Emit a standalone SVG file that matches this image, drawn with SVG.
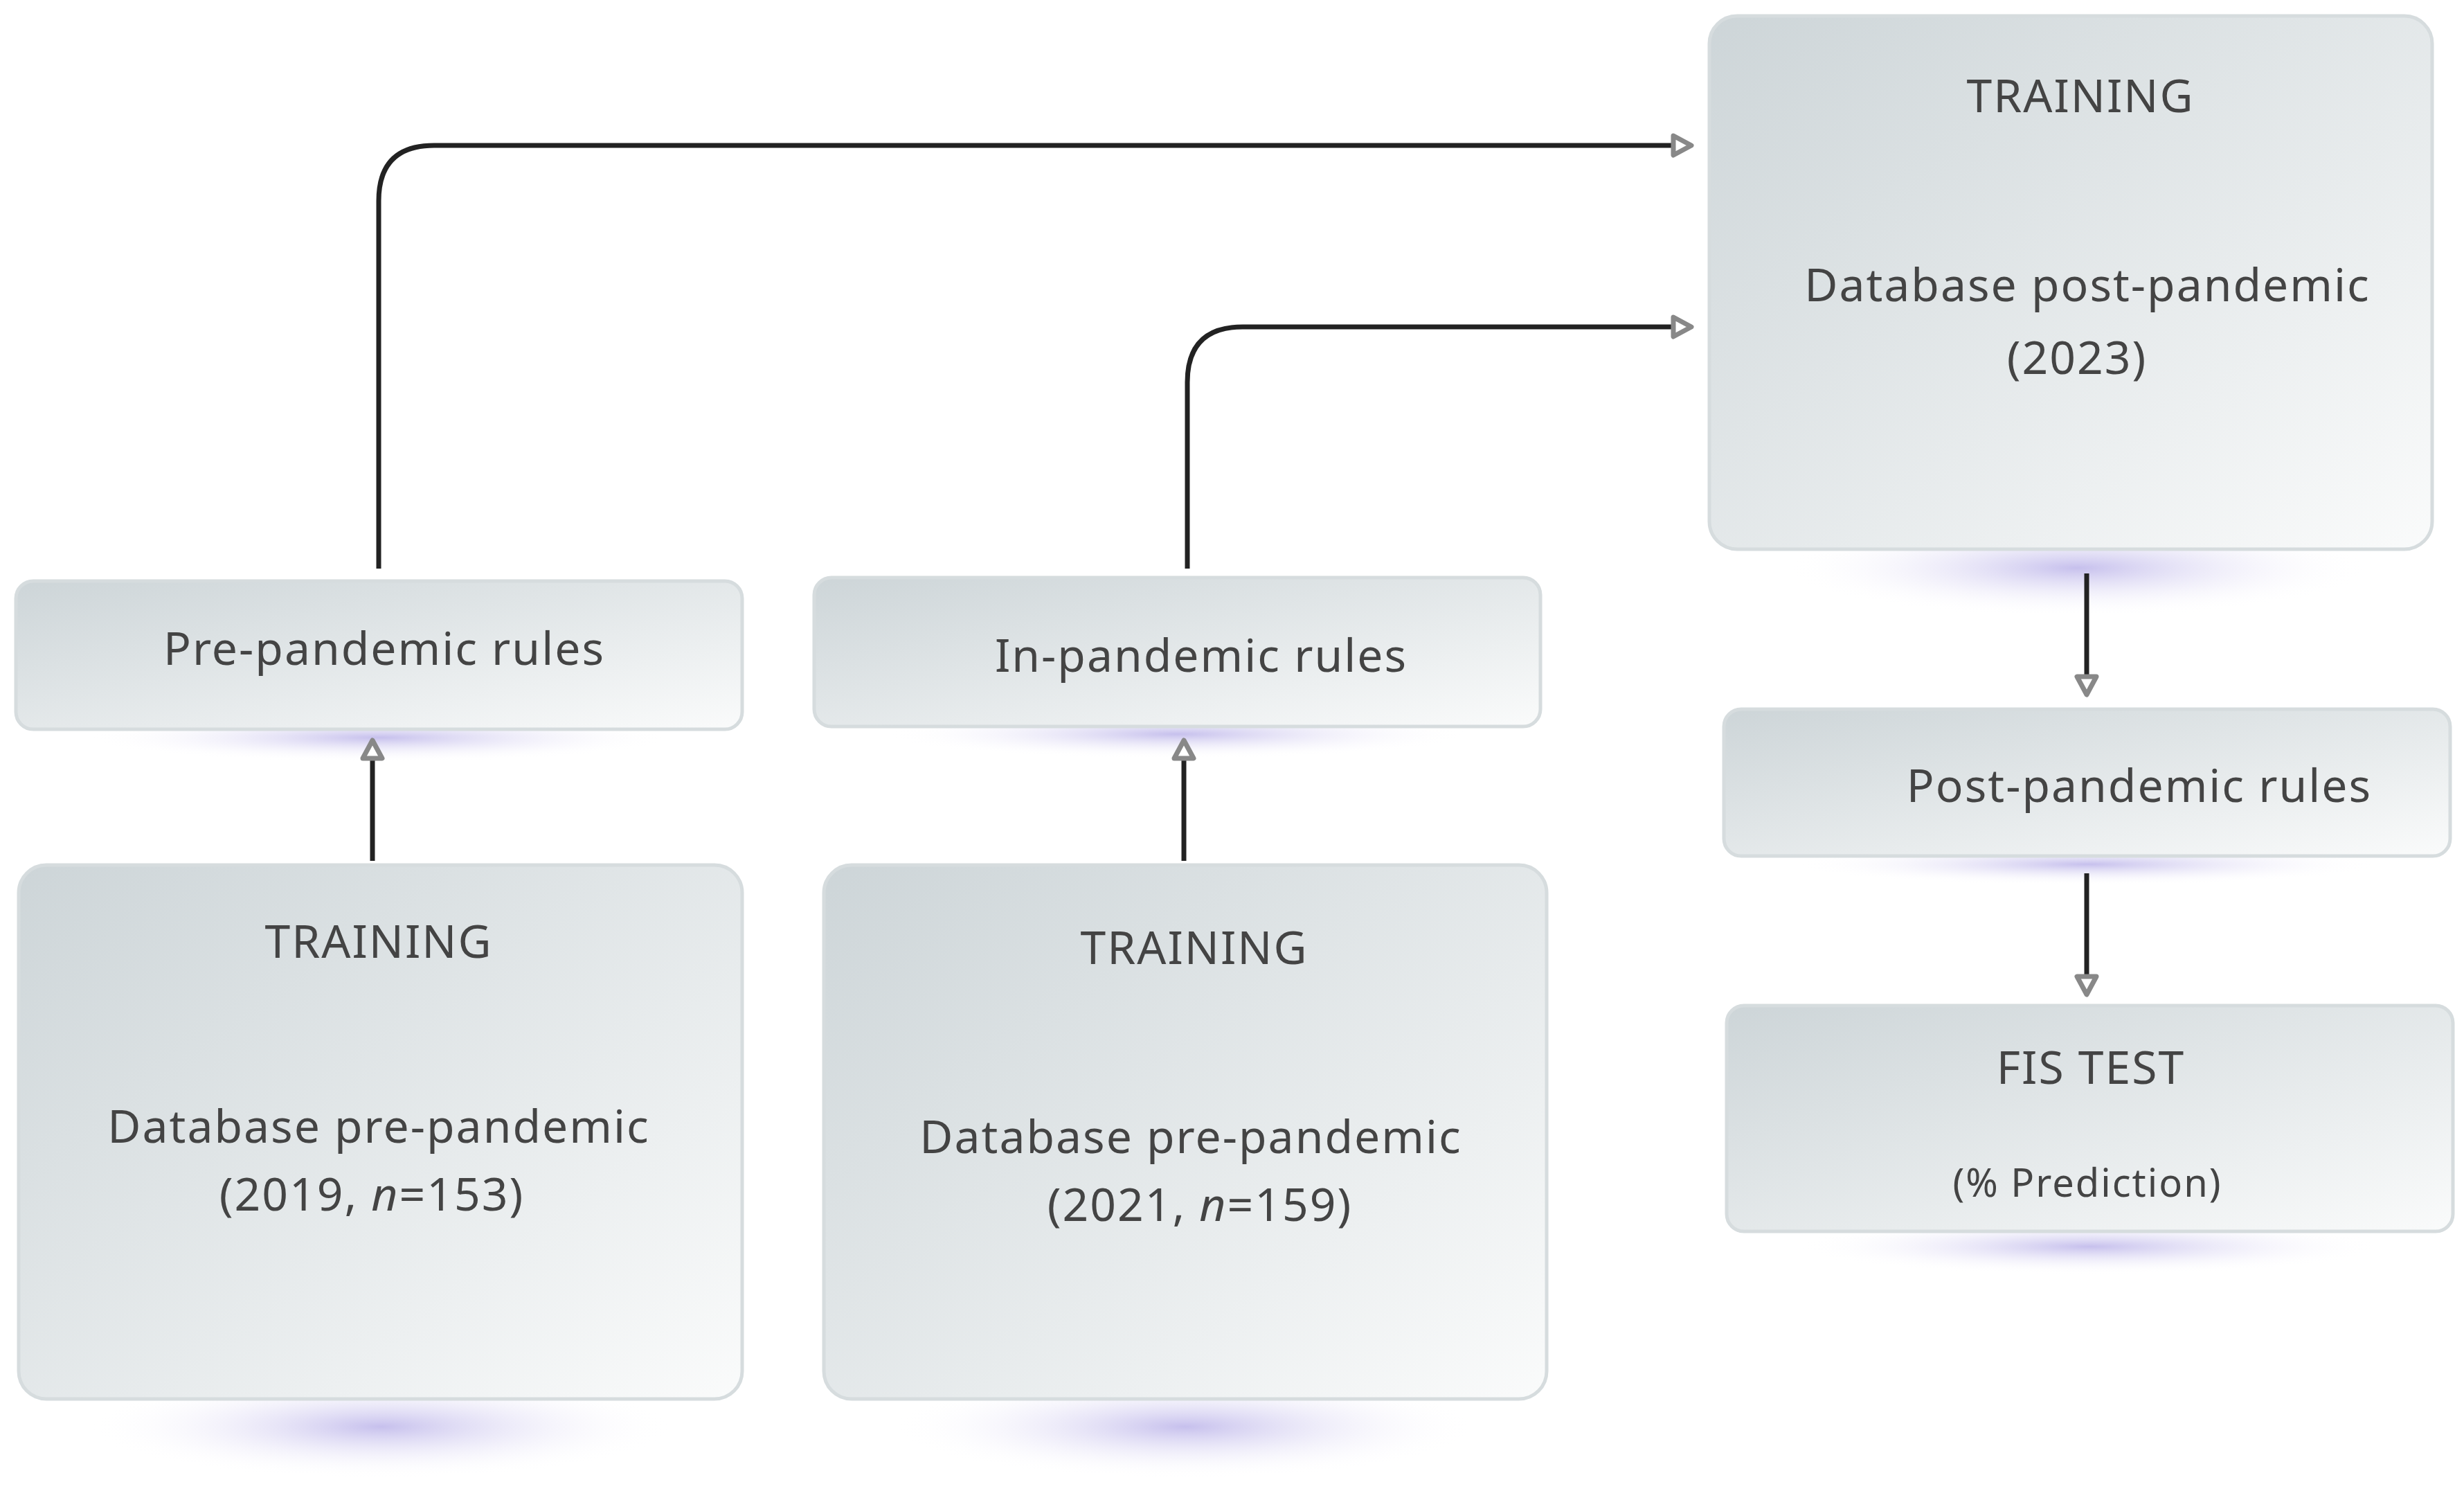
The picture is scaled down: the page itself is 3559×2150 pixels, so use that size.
<svg xmlns="http://www.w3.org/2000/svg" width="3559" height="2150" viewBox="0 0 3559 2150">
<defs>
<linearGradient id="bg" x1="0" y1="0" x2="1" y2="1"><stop offset="0" stop-color="#cdd5d8"/><stop offset="1" stop-color="#fafbfb"/></linearGradient>
<radialGradient id="sh"><stop offset="0" stop-color="#b8b0e8" stop-opacity="0.8"/><stop offset="1" stop-color="#ffffff" stop-opacity="0"/></radialGradient>
<marker id="ah" viewBox="0 0 20 20" refX="8" refY="10" markerWidth="40" markerHeight="40" markerUnits="userSpaceOnUse" orient="auto"><path d="M4 3 L17 10 L4 17 Z" fill="#fff" stroke="#888" stroke-width="3.5" stroke-linejoin="round"/></marker>
</defs>
<style>
.b{fill:url(#bg);stroke:#d6dcde;stroke-width:5}
.t{font-family:"Noto Sans","Liberation Sans",sans-serif;font-size:66px;fill:#444;text-anchor:middle;letter-spacing:2px}
.s{font-size:56px}
.c{fill:none;stroke:#222;stroke-width:7;marker-end:url(#ah)}
</style>
<rect width="3559" height="2150" fill="#fff"/>
<g id="shadows">
<ellipse cx="3000" cy="820" rx="420" ry="70" fill="url(#sh)"/>
<ellipse cx="547" cy="1065" rx="420" ry="35" fill="url(#sh)"/>
<ellipse cx="1700" cy="1060" rx="420" ry="35" fill="url(#sh)"/>
<ellipse cx="3015" cy="1248" rx="420" ry="30" fill="url(#sh)"/>
<ellipse cx="3018" cy="1800" rx="420" ry="40" fill="url(#sh)"/>
<ellipse cx="550" cy="2060" rx="420" ry="75" fill="url(#sh)"/>
<ellipse cx="1712" cy="2060" rx="420" ry="75" fill="url(#sh)"/>
</g>
<g id="train3"><rect class="b" x="2469" y="23" width="1044" height="770" rx="40"/>
<text class="t" x="3005" y="162">TRAINING</text><text class="t" x="3015" y="435">Database post-pandemic</text><text class="t" x="3000" y="540">(2023)</text></g>
<g id="pre"><rect class="b" x="23" y="839" width="1049" height="214" rx="25"/><text class="t" x="555" y="960">Pre-pandemic rules</text></g>
<g id="in"><rect class="b" x="1176" y="834" width="1049" height="215" rx="25"/><text class="t" x="1735" y="970">In-pandemic rules</text></g>
<g id="post"><rect class="b" x="2490" y="1024" width="1049" height="212" rx="25"/><text class="t" x="3090" y="1158">Post-pandemic rules</text></g>
<g id="fis"><rect class="b" x="2494" y="1452" width="1049" height="326" rx="25"/><text class="t" x="3020" y="1565">FIS TEST</text><text class="t s" x="3015" y="1728">(% Prediction)</text></g>
<g id="train1"><rect class="b" x="27" y="1249" width="1045" height="771" rx="40"/>
<text class="t" x="547" y="1383">TRAINING</text><text class="t" x="547" y="1650">Database pre-pandemic</text><text class="t" x="537" y="1748">(2019, <tspan font-style="italic">n</tspan>=153)</text></g>
<g id="train2"><rect class="b" x="1190" y="1249" width="1044" height="771" rx="40"/>
<text class="t" x="1725" y="1392">TRAINING</text><text class="t" x="1720" y="1665">Database pre-pandemic</text><text class="t" x="1733" y="1763">(2021, <tspan font-style="italic">n</tspan>=159)</text></g>
<g id="connectors">
<path class="c" d="M547 821 V290 Q547 210 627 210 H2425"/>
<path class="c" d="M1715 821 V552 Q1715 472 1795 472 H2425"/>
<path class="c" d="M538 1243 V1087"/>
<path class="c" d="M1710 1243 V1087"/>
<path class="c" d="M3014 828 V985"/>
<path class="c" d="M3014 1261 V1418"/>
</g>
</svg>
